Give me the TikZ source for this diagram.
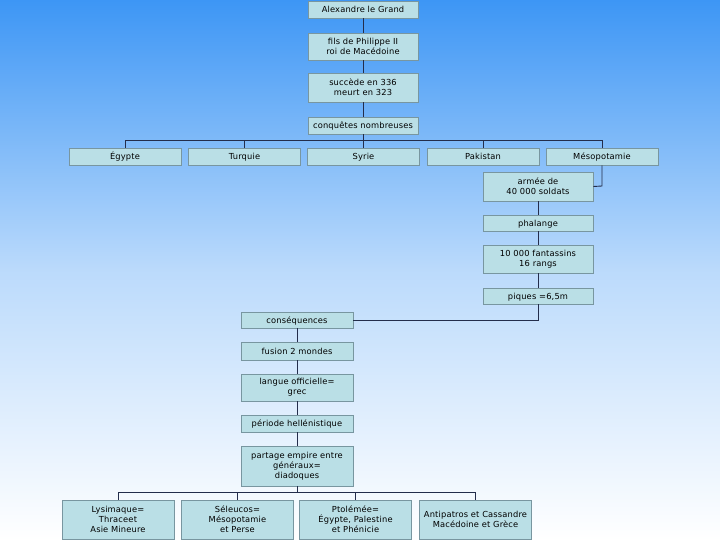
\documentclass[tikz,border=0pt]{standalone}
\usepackage{fontspec}
\setmainfont{DejaVu Sans}[LetterSpace=2]
\definecolor{bgtop}{RGB}{61,150,245}
\definecolor{boxfill}{RGB}{186,223,230}
\definecolor{boxline}{RGB}{120,150,160}
\definecolor{conn}{RGB}{35,45,75}
\begin{document}
\begin{tikzpicture}[x=1pt,y=-1pt,
  box/.style={draw=boxline,fill=boxfill,line width=0.8pt,minimum width=110pt,align=center,inner sep=1pt,font=\fontsize{8.3}{9.8}\selectfont},
  wbox/.style={box,minimum width=112pt},
  one/.style={text height=7pt,text depth=1pt},
  link/.style={draw=conn,line width=0.9pt}]
\shade[top color=bgtop,bottom color=white,middle color=bgtop!35!white] (0,0) rectangle (720,540);
\useasboundingbox (0,0) rectangle (720,540);
\node[box,one,minimum height=17pt] (alex) at (363,9.5) {Alexandre le Grand};
\node[box,minimum height=27pt] (fils) at (363,46.5) {fils de Philippe II\\roi de Macédoine};
\node[box,minimum height=29pt] (succ) at (363,87.5) {succède en 336\\meurt en 323};
\node[box,one,minimum height=17pt] (conq) at (363,125.5) {conquêtes nombreuses};
\node[wbox,one,minimum height=17pt] (egy) at (125,156.5) {Égypte};
\node[wbox,one,minimum height=17pt] (tur) at (244.5,156.5) {Turquie};
\node[wbox,one,minimum height=17pt] (syr) at (363.5,156.5) {Syrie};
\node[wbox,one,minimum height=17pt] (pak) at (483,156.5) {Pakistan};
\node[wbox,one,minimum height=17pt] (meso) at (602,156.5) {Mésopotamie};
\node[box,minimum height=29pt] (armee) at (538,186.5) {armée de\\40 000 soldats};
\node[box,one,minimum height=16pt] (phal) at (538,223) {phalange};
\node[box,minimum height=28pt] (fant) at (538,259) {10 000 fantassins\\16 rangs};
\node[box,one,minimum height=16pt] (piq) at (538,296) {piques =6,5m};
\node[wbox,one,minimum height=16pt] (cons) at (297,320) {conséquences};
\node[wbox,one,minimum height=18pt] (fus) at (297,351) {fusion 2 mondes};
\node[wbox,minimum height=27pt] (lang) at (297,387.5) {langue officielle=\\grec};
\node[wbox,one,minimum height=17pt] (per) at (297,423.5) {période hellénistique};
\node[wbox,minimum height=40pt] (part) at (297,466) {partage empire entre\\généraux=\\diadoques};
\node[wbox,minimum height=39pt] (lys) at (118,519.5) {Lysimaque=\\Thraceet\\Asie Mineure};
\node[wbox,minimum height=39pt] (sel) at (237.5,519.5) {Séleucos=\\Mésopotamie\\et Perse};
\node[wbox,minimum height=39pt] (pto) at (355.5,519.5) {Ptolémée=\\Égypte, Palestine\\et Phénicie};
\node[wbox,minimum height=39pt] (anti) at (475.5,519.5) {Antipatros et Cassandre\\Macédoine et Grèce};
% connectors
\draw[link] (alex) -- (fils);
\draw[link] (fils) -- (succ);
\draw[link] (succ) -- (conq);
\coordinate (bus1) at (363,140);
\draw[link] (conq.south) -- (bus1);
\foreach \n in {egy,tur,syr,pak,meso}{
  \draw[link] (bus1) -| (\n.north);
}
\coordinate (mc) at (602,186);
\draw[link] (meso.south) -- (mc) -- (armee.east);
\draw[link] (armee) -- (phal);
\draw[link] (phal) -- (fant);
\draw[link] (fant) -- (piq);
\draw[link] (piq.south) |- (cons.east);
\draw[link] (cons) -- (fus);
\draw[link] (fus) -- (lang);
\draw[link] (lang) -- (per);
\draw[link] (per) -- (part);
\coordinate (bus2) at (297,492);
\draw[link] (part.south) -- (bus2);
\foreach \n in {lys,sel,pto,anti}{
  \draw[link] (bus2) -| (\n.north);
}
\end{tikzpicture}
\end{document}
